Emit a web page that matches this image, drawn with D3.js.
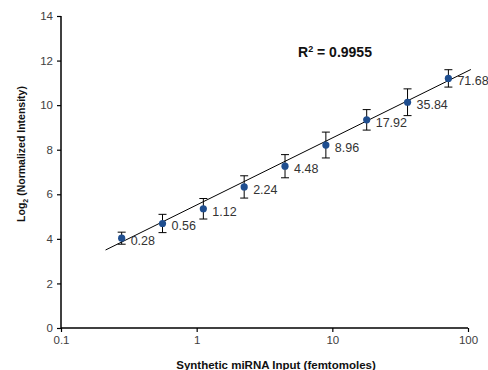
<!DOCTYPE html>
<html><head><meta charset="utf-8">
<script src="https://cdn.jsdelivr.net/npm/d3@7"></script>
<style>body{margin:0;background:#fff}svg{display:block}</style>
</head><body>
<svg id="c" width="488" height="370"></svg>
<script>
const inputs = [0.28, 0.56, 1.12, 2.24, 4.48, 8.96, 17.92, 35.84, 71.68];
const labels = ["0.28","0.56","1.12","2.24","4.48","8.96","17.92","35.84","71.68"];
const intensity = [4.03, 4.69, 5.35, 6.33, 7.26, 8.21, 9.34, 10.13, 11.2];
const errors = [0.27, 0.41, 0.46, 0.5, 0.52, 0.58, 0.46, 0.6, 0.39];
const trendX = [0.213, 105];
const trendY = [3.5, 11.6];
const xTicks = [0.1, 1, 10, 100];
const xTickLabels = ["0.1", "1", "10", "100"];
const yTicks = [0, 2, 4, 6, 8, 10, 12, 14];
const r2Text = "0.9955";

const svg = d3.select("#c");
const x = d3.scaleLog().domain([0.1, 100]).range([61, 468]);
const y = d3.scaleLinear().domain([0, 14]).range([328, 16]);
const font = "Liberation Sans, Arial, sans-serif";

// axes
const ya = svg.append("g").attr("transform", "translate(61,0)")
  .call(d3.axisLeft(y).tickValues(yTicks).tickSize(4).tickPadding(4).tickFormat(d3.format("d")));
const xa = svg.append("g").attr("transform", "translate(0,328)")
  .call(d3.axisBottom(x).tickValues(xTicks).tickSize(4).tickPadding(4).tickFormat((d,i)=>xTickLabels[i]));
[ya, xa].forEach(a => {
  a.select(".domain").attr("stroke", "#000").attr("stroke-width", 1.5);
  a.selectAll(".tick line").attr("stroke", "#000").attr("stroke-width", 1.2);
  a.selectAll("text").attr("font-family", font).attr("font-size", 11.5).attr("fill", "#404040");
});
ya.select(".domain").attr("d", "M0,328V16");
xa.select(".domain").attr("d", "M61,0H468");

// trend line
svg.append("line")
  .attr("x1", x(trendX[0])).attr("y1", y(trendY[0]))
  .attr("x2", x(trendX[1])).attr("y2", y(trendY[1]))
  .attr("stroke", "#000").attr("stroke-width", 1);

// error bars
const eb = svg.append("g").selectAll("g").data(inputs).join("g");
eb.append("line").attr("x1", d => x(d)).attr("x2", d => x(d))
  .attr("y1", (d,i) => y(intensity[i] + errors[i])).attr("y2", (d,i) => y(intensity[i] - errors[i]))
  .attr("stroke", "#000").attr("stroke-width", 1);
[1, -1].forEach(s => {
  eb.append("line").attr("x1", d => x(d) - 4).attr("x2", d => x(d) + 4)
    .attr("y1", (d,i) => y(intensity[i] + s*errors[i])).attr("y2", (d,i) => y(intensity[i] + s*errors[i]))
    .attr("stroke", "#000").attr("stroke-width", 1);
});

// points
svg.append("g").selectAll("circle").data(inputs).join("circle")
  .attr("cx", d => x(d)).attr("cy", (d,i) => y(intensity[i])).attr("r", 3.6)
  .attr("fill", "#1f4e8f");

// labels
svg.append("g").selectAll("text").data(inputs).join("text")
  .attr("x", d => x(d) + 9).attr("y", (d,i) => y(intensity[i]) + 7)
  .attr("font-family", font).attr("font-size", 12.5).attr("fill", "#333")
  .text((d,i) => labels[i]);

// R2
const r = svg.append("text").attr("x", 298).attr("y", 57)
  .attr("font-family", font).attr("font-size", 14).attr("font-weight", "bold").attr("fill", "#111");
r.append("tspan").text("R");
r.append("tspan").attr("font-size", 9).attr("dy", -5).text("2");
r.append("tspan").attr("dy", 5).text(" = " + r2Text);

// axis titles
svg.append("text").attr("x", 276).attr("y", 369).attr("text-anchor", "middle")
  .attr("font-family", font).attr("font-size", 11.5).attr("font-weight", "bold").attr("fill", "#111")
  .text("Synthetic miRNA Input (femtomoles)");
const yt = svg.append("text").attr("transform", "translate(25,154) rotate(-90)").attr("text-anchor", "middle")
  .attr("font-family", font).attr("font-size", 10.5).attr("font-weight", "bold").attr("fill", "#111");
yt.append("tspan").text("Log");
yt.append("tspan").attr("font-size", 7).attr("dy", 3).text("2");
yt.append("tspan").attr("dy", -3).text(" (Normalized Intensity)");
</script>
</body></html>
